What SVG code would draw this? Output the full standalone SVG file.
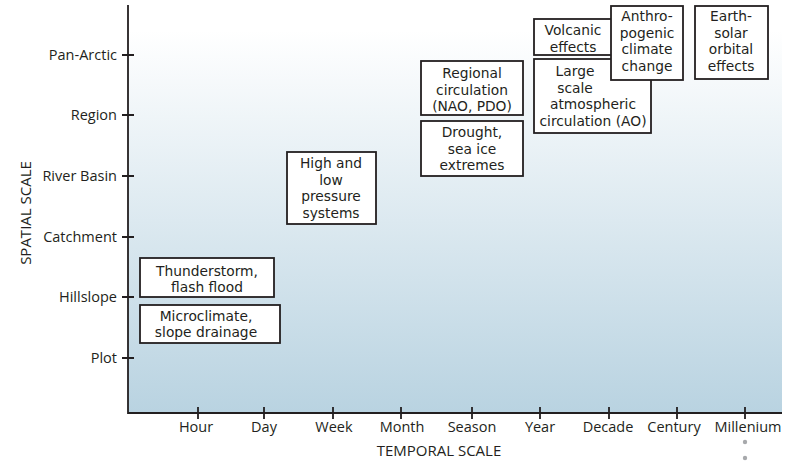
<svg xmlns="http://www.w3.org/2000/svg" width="797" height="462" viewBox="0 0 797 462">
<defs>
<linearGradient id="bg" x1="0" y1="30" x2="0" y2="412" gradientUnits="userSpaceOnUse">
<stop offset="0" stop-color="#ffffff"/>
<stop offset="1" stop-color="#b9d3e1"/>
</linearGradient>
</defs>
<style>
text{font-family:"Open Sans","Noto Sans","Liberation Sans",sans-serif;font-size:14.5px;fill:#231f20}
.box rect{fill:#fff;stroke:#231f20;stroke-width:1.8}
.box text{text-anchor:middle;font-family:"DejaVu Sans","Liberation Sans",sans-serif;font-size:13.8px}
.ax{stroke:#231f20;stroke-width:1.8;fill:none}
.yl{text-anchor:end}
.xl{text-anchor:middle}
.title{font-size:15px}
</style>
<rect x="128" y="0" width="654" height="412" fill="url(#bg)"/>
<g id="axes">
<path class="ax" d="M128,5 V413 H782"/>
<path class="ax" d="M122,55 H134 M122,115 H134 M122,176 H134 M122,237 H134 M122,297 H134 M122,358 H134"/>
<path class="ax" d="M198,407 V419 M264,407 V419 M333,407 V419 M401,407 V419 M472,407 V419 M540,407 V419 M609,407 V419 M677,407 V419 M745,407 V419"/>
<text class="yl" x="117" y="60">Pan-Arctic</text>
<text class="yl" x="117" y="120">Region</text>
<text class="yl" x="117" y="181">River Basin</text>
<text class="yl" x="117" y="242">Catchment</text>
<text class="yl" x="117" y="302">Hillslope</text>
<text class="yl" x="117" y="363">Plot</text>
<text class="xl" x="196" y="432">Hour</text>
<text class="xl" x="264" y="432">Day</text>
<text class="xl" x="334" y="432">Week</text>
<text class="xl" x="402" y="432">Month</text>
<text class="xl" x="472" y="432">Season</text>
<text class="xl" x="540" y="432">Year</text>
<text class="xl" x="608" y="432">Decade</text>
<text class="xl" x="674" y="432">Century</text>
<text class="xl" x="748" y="432">Millenium</text>
<text class="title" x="439" y="456" text-anchor="middle">TEMPORAL SCALE</text>
<text class="title" transform="translate(31,213) rotate(-90)" text-anchor="middle">SPATIAL SCALE</text>
<circle cx="745" cy="442" r="2.2" fill="#a7a9ac"/>
<circle cx="745" cy="458" r="2.2" fill="#a7a9ac"/>
</g>
<g id="thunderstorm" class="box">
<rect x="140" y="258" width="134" height="39"/>
<text x="207" y="276">Thunderstorm,</text>
<text x="207" y="292">flash flood</text>
</g>
<g id="microclimate" class="box">
<rect x="140" y="305" width="140" height="38"/>
<text x="206" y="321">Microclimate,</text>
<text x="206" y="337">slope drainage</text>
</g>
<g id="pressure" class="box">
<rect x="287" y="152" width="89" height="72"/>
<text x="331" y="168">High and</text>
<text x="331" y="184.5">low</text>
<text x="331" y="201">pressure</text>
<text x="331" y="217.5">systems</text>
</g>
<g id="regional" class="box">
<rect x="421" y="61" width="102" height="54"/>
<text x="472" y="78">Regional</text>
<text x="472" y="94.5">circulation</text>
<text x="472" y="111">(NAO, PDO)</text>
</g>
<g id="drought" class="box">
<rect x="421" y="121" width="102" height="55"/>
<text x="472" y="137">Drought,</text>
<text x="472" y="153.5">sea ice</text>
<text x="472" y="170">extremes</text>
</g>
<g id="volcanic" class="box">
<rect x="534" y="19" width="86" height="36"/>
<text x="573" y="35">Volcanic</text>
<text x="573" y="51.5">effects</text>
</g>
<g id="largescale" class="box">
<rect x="534" y="59" width="117" height="74"/>
<text x="575" y="76">Large</text>
<text x="575" y="92.5">scale</text>
<text x="593" y="109">atmospheric</text>
<text x="593" y="125.5">circulation (AO)</text>
</g>
<g id="anthropogenic" class="box">
<rect x="611" y="6" width="72" height="74"/>
<text x="647" y="21">Anthro-</text>
<text x="647" y="37.5">pogenic</text>
<text x="647" y="54">climate</text>
<text x="647" y="70.5">change</text>
</g>
<g id="earthsolar" class="box">
<rect x="695" y="6" width="73" height="73"/>
<text x="731" y="21">Earth-</text>
<text x="731" y="37.5">solar</text>
<text x="731" y="54">orbital</text>
<text x="731" y="70.5">effects</text>
</g>
<g id="connectors"/>
</svg>
